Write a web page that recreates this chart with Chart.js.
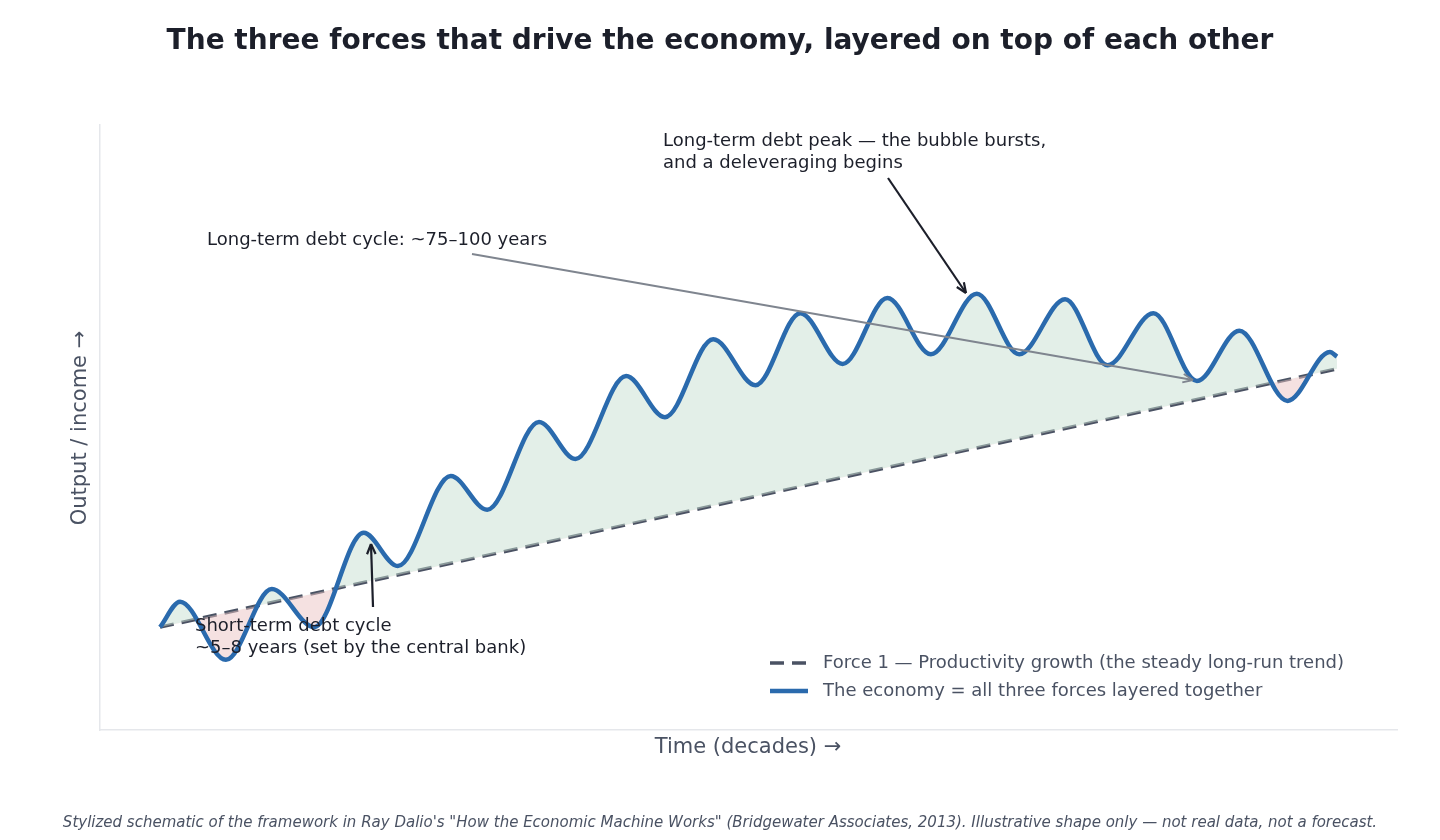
<!DOCTYPE html>
<html><head><meta charset="utf-8">
<script src="https://cdn.jsdelivr.net/npm/chart.js@4"></script>
<style>html,body{margin:0;padding:0;background:#fff}#c{display:block}</style>
</head><body>
<canvas id="c" width="1440" height="840"></canvas>
<script>
// Economy curve (stylized), time in arbitrary units 0..100
const econX = [0,1.7,5.6,9.5,13.1,17.3,20.2,24.7,27.8,32.2,35.3,39.6,42.9,47.0,50.6,54.4,58.0,61.8,65.5,69.4,73.0,76.9,80.5,84.4,88.1,91.7,95.8,99.4,100];
const econY = [17.0,21.2,11.6,23.3,17.0,32.6,27.1,42.0,36.4,50.9,44.8,58.5,51.7,64.6,57.0,68.9,60.5,71.4,62.1,72.1,62.1,71.2,60.3,68.9,57.7,66.0,54.4,62.5,61.7];
// Force 1 trend
const trendX = [0,100];
const trendY = [17.0,59.7];

const toPts=(xs,ys)=>xs.map((x,i)=>({x,y:ys[i]}));

const annot={id:'annot',afterDraw(ch){
  const c=ch.ctx,xs=ch.scales.x,ys=ch.scales.y;
  const X=v=>xs.getPixelForValue(v),Y=v=>ys.getPixelForValue(v);
  function arrow(x1,y1,x2,y2,col,w){
    c.save();c.strokeStyle=col;c.fillStyle=col;c.lineWidth=w;
    c.beginPath();c.moveTo(x1,y1);c.lineTo(x2,y2);c.stroke();
    const a=Math.atan2(y2-y1,x2-x1),L=11;
    c.beginPath();c.moveTo(x2,y2);c.lineTo(x2-L*Math.cos(a-0.4),y2-L*Math.sin(a-0.4));
    c.moveTo(x2,y2);c.lineTo(x2-L*Math.cos(a+0.4),y2-L*Math.sin(a+0.4));c.stroke();c.restore();
  }
  c.save();
  c.font='18px "DejaVu Sans"';c.fillStyle='#1c1f2a';c.textBaseline='alphabetic';c.textAlign='left';
  c.fillText('Long-term debt peak — the bubble bursts,',663,146);
  c.fillText('and a deleveraging begins',663,168);
  arrow(888,178,966,293,'#1c1f2a',2.2);
  c.fillText('Long-term debt cycle: ~75–100 years',207,245);
  arrow(472,254,1193,380,'#7f858f',1.8);
  c.fillStyle='#1c1f2a';
  c.fillText('Short-term debt cycle',195,631);
  c.fillText('~5–8 years (set by the central bank)',195,653);
  arrow(373,607,371,544,'#1c1f2a',2.2);
  // legend
  c.lineWidth=3.5;c.strokeStyle='#4a5263';c.setLineDash([14,8]);
  c.beginPath();c.moveTo(770,663);c.lineTo(808,663);c.stroke();c.setLineDash([]);
  c.lineWidth=4.5;c.strokeStyle='#2a6aad';c.beginPath();c.moveTo(770,691);c.lineTo(808,691);c.stroke();
  c.fillStyle='#4a5263';c.textBaseline='middle';
  c.fillText('Force 1 — Productivity growth (the steady long-run trend)',823,663);
  c.fillText('The economy = all three forces layered together',823,691);
  // titles
  c.textAlign='center';c.font='bold 28px "DejaVu Sans"';c.fillStyle='#1c1f2a';
  c.fillText('The three forces that drive the economy, layered on top of each other',720,42);
  c.font='21px "DejaVu Sans"';c.fillStyle='#4a5263';
  c.fillText('Time (decades) →',748,748);
  c.save();c.translate(81,428);c.rotate(-Math.PI/2);c.fillText('Output / income →',0,0);c.restore();
  c.font='italic 15px "DejaVu Sans"';c.fillStyle='#4a5263';
  c.fillText('Stylized schematic of the framework in Ray Dalio\'s "How the Economic Machine Works" (Bridgewater Associates, 2013). Illustrative shape only — not real data, not a forecast.',720,823);
  c.restore();
}};

new Chart(document.getElementById('c'),{
  type:'scatter',
  data:{datasets:[
    {label:'Force 1 — Productivity growth (the steady long-run trend)',data:toPts(trendX,trendY),showLine:true,
     borderColor:'#4a5263',borderWidth:3.5,borderDash:[14,8],pointRadius:0,fill:false,order:1},
    {label:'The economy = all three forces layered together',data:toPts(econX,econY),showLine:true,
     borderColor:'#2a6aad',borderWidth:4.5,pointRadius:0,cubicInterpolationMode:'monotone',
     fill:{target:0,above:'rgba(200,224,210,0.5)',below:'rgba(236,196,196,0.5)'},order:0}
  ]},
  options:{responsive:false,animation:false,
    layout:{padding:{left:0,right:43,top:125,bottom:0}},
    plugins:{legend:{display:false},title:{display:false},tooltip:{enabled:false}},
    scales:{
      x:{type:'linear',min:-5.1,max:105.1,ticks:{display:false},grid:{display:false},
         border:{color:'#e5e7eb',width:1.5},afterFit(s){s.height=110;}},
      y:{min:0,max:100,ticks:{display:false},grid:{display:false},
         border:{color:'#e5e7eb',width:1.5},afterFit(s){s.width=100;}}
    }},
  plugins:[annot]
});
</script>
</body></html>
